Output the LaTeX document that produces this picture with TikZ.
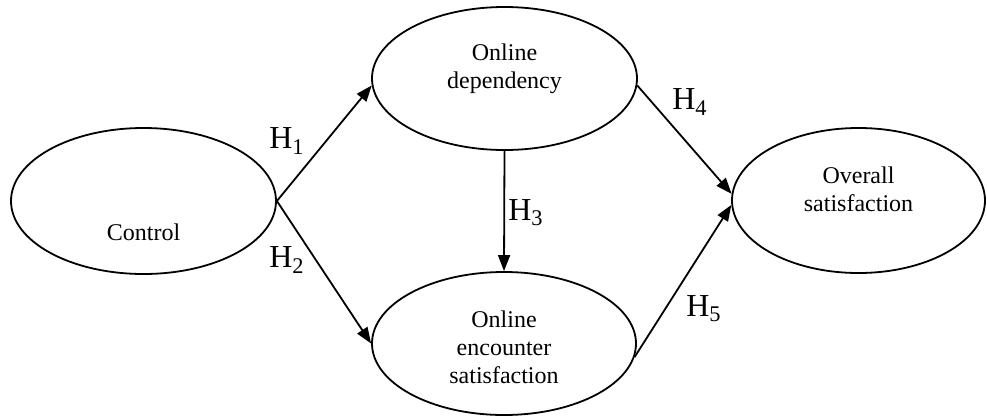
\documentclass[tikz,border=0pt]{standalone}
\usepackage{fontspec}
\setmainfont{Liberation Serif}
\usetikzlibrary{arrows.meta, shapes.geometric, positioning}

\begin{document}
\begin{tikzpicture}[x=0.5pt, y=-0.5pt,
  construct/.style={ellipse, draw, line width=0.9pt, inner sep=0pt},
  txt/.style={align=center, inner sep=0pt, font=\fontsize{12}{14}\selectfont},
  hyp/.style={inner sep=0pt, font=\fontsize{16}{18}\selectfont},
  link/.style={line width=0.9pt, -{Triangle[length=8pt, width=6pt]}}]
  \useasboundingbox (0,0) rectangle (987,419);

  % Constructs (ellipses)
  \node[construct, minimum width=132.5pt, minimum height=73pt] (ctrl) at (143.5,201) {};
  \node[construct, minimum width=132.5pt, minimum height=71.5pt] (dep) at (504.5,78.5) {};
  \node[construct, minimum width=132pt, minimum height=71.5pt] (enc) at (504,343.5) {};
  \node[construct, minimum width=126.5pt, minimum height=72.5pt] (ov) at (858.5,200.5) {};

  % Construct names
  \node[txt] (ctrltxt) at (143.5,232) {Control};
  \node[txt] (deptxt) at (504.5,69) {Online\\dependency};
  \node[txt] (enctxt) at (504,347.5) {Online\\encounter\\satisfaction};
  \node[txt] (ovtxt) at (858.5,189) {Overall\\satisfaction};

  % Hypothesised paths
  \draw[link] (ctrl.east) -- (dep.183);
  \draw[link] (ctrl.east) -- (enc.west);
  \draw[link] (dep.south) -- (enc.north);
  \draw[link] (dep.-3) -- (ov.177.5);
  \draw[link] (enc.-6) -- (ov.182);

  % Hypothesis labels
  \node[hyp] (h1) at (287,141) {H\textsubscript{1}};
  \node[hyp] (h2) at (287,260) {H\textsubscript{2}};
  \node[hyp] (h3) at (526,213) {H\textsubscript{3}};
  \node[hyp] (h4) at (690,102) {H\textsubscript{4}};
  \node[hyp] (h5) at (704,309) {H\textsubscript{5}};
\end{tikzpicture}
\end{document}
